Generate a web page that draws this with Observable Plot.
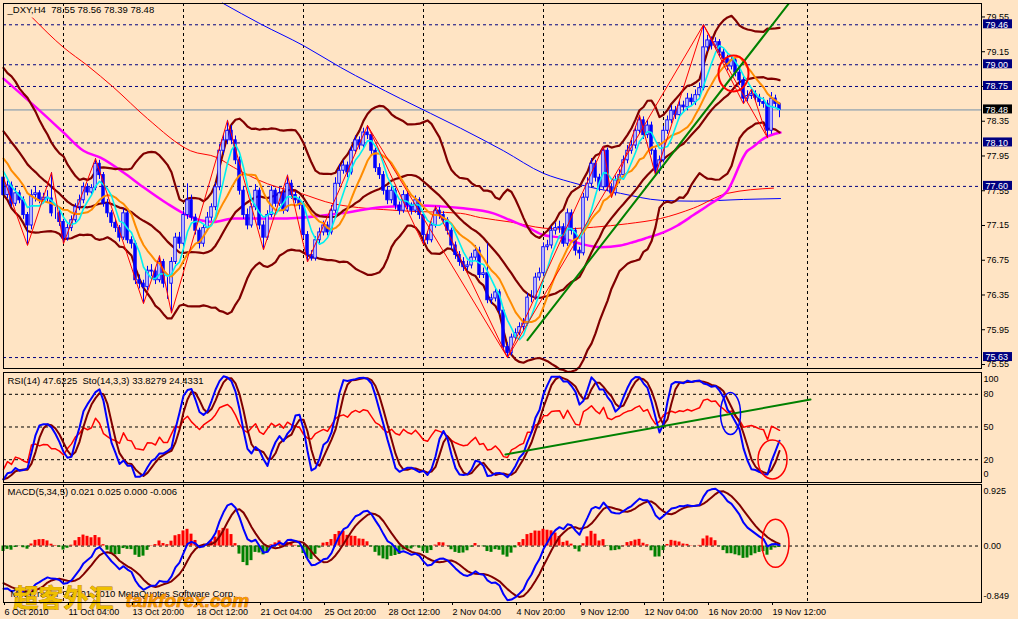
<!DOCTYPE html>
<html>
<head>
<meta charset="utf-8">
<script src="https://cdn.jsdelivr.net/npm/d3@7"></script>
<script src="https://cdn.jsdelivr.net/npm/@observablehq/plot@0.6"></script>
<style>
html,body{margin:0;padding:0;background:#FFE4C4;}
#wrap{position:relative;width:1018px;height:619px;overflow:hidden;background:#FFE4C4;}
</style>
</head>
<body>
<div id="wrap"></div>
<script>
// ---------------- DATA ----------------
// closes before the first visible bar (only used to warm up the indicators)
const prior = [78.95,78.80,78.72,78.66,78.70,78.58,78.52,78.44,78.36,78.40,78.28,78.18,78.22,78.05,77.98,77.92,78.02,77.85,77.78,77.70];

const close = [
77.50,77.61,77.40,77.52,77.44,77.27,77.15,77.50,77.52,77.44,
77.47,77.46,77.29,77.29,77.19,77.00,77.12,77.21,77.36,77.44,
77.59,77.53,77.58,77.86,77.73,77.40,77.29,77.18,77.12,77.01,
77.29,76.98,76.94,76.52,76.48,76.44,76.63,76.62,76.52,76.73,
76.48,76.48,76.73,77.01,76.94,77.27,77.44,77.24,77.09,76.94,
77.12,77.24,77.36,77.59,78.01,78.13,78.24,78.13,77.90,77.55,
77.27,77.15,77.36,77.55,77.15,77.01,77.27,77.55,77.40,77.52,
77.32,77.63,77.50,77.44,77.38,77.04,76.81,76.77,76.98,77.07,
77.15,77.07,77.32,77.63,77.78,77.84,77.76,78.01,78.13,78.07,
78.22,78.19,78.01,77.81,77.73,77.55,77.44,77.55,77.38,77.32,
77.50,77.38,77.32,77.44,77.27,77.04,76.98,77.15,77.32,77.27,
77.21,77.09,76.92,76.81,76.73,76.67,76.69,76.78,76.86,76.58,
76.60,76.29,76.31,76.38,76.17,75.75,75.68,75.86,75.91,75.98,
76.02,76.32,76.32,76.55,76.60,76.90,76.92,77.09,77.12,77.13,
76.94,77.29,77.09,76.86,76.83,77.47,77.63,77.86,77.70,77.59,
78.01,77.59,77.52,77.67,77.73,77.90,78.01,78.07,78.24,78.36,
78.19,78.30,78.01,77.78,77.90,78.24,78.36,78.47,78.42,78.53,
78.51,78.61,78.57,78.65,78.73,79.20,79.28,79.22,79.26,79.14,
79.07,78.98,79.05,78.91,78.82,78.61,78.64,78.66,78.62,78.57,
78.55,78.24,78.61,78.55,78.48];

const high = [
77.90,77.66,77.65,77.58,77.55,77.48,77.30,77.56,77.60,77.55,
77.52,77.55,77.76,77.36,77.33,77.22,77.16,77.26,77.40,77.50,
77.64,77.63,77.62,77.92,77.90,77.76,77.45,77.32,77.22,77.15,
77.34,77.32,77.02,76.97,76.58,76.52,76.68,76.70,76.66,76.80,
76.76,76.55,76.78,77.06,77.07,77.32,77.63,77.50,77.28,77.12,
77.16,77.30,77.40,77.64,78.08,78.20,78.36,78.30,78.18,77.94,
77.60,77.34,77.40,77.62,77.58,77.20,77.32,77.60,77.58,77.58,
77.56,77.73,77.67,77.54,77.48,77.42,77.08,76.86,77.02,77.12,
77.20,77.19,77.38,77.70,77.85,77.90,77.88,78.06,78.18,78.17,
78.27,78.30,78.22,78.04,77.86,77.77,77.60,77.60,77.58,77.42,
77.55,77.54,77.41,77.49,77.47,77.30,77.08,77.19,77.37,77.36,
77.31,77.24,77.12,76.96,76.85,76.78,76.74,76.83,76.92,76.90,
76.66,76.94,76.36,76.42,76.41,76.20,75.80,75.90,75.96,76.03,
76.08,76.37,76.40,76.60,76.66,76.95,76.98,77.14,77.18,77.20,
77.17,77.34,77.33,77.12,76.90,77.52,77.70,77.92,77.90,77.74,
78.06,78.04,77.63,77.72,77.79,77.95,78.07,78.13,78.29,78.42,
78.40,78.36,78.34,78.04,77.95,78.29,78.41,78.53,78.52,78.59,
78.58,78.67,78.66,78.71,78.79,79.46,79.34,79.32,79.31,79.29,
79.18,79.11,79.10,79.08,78.96,78.86,78.70,78.72,78.70,78.66,
78.62,78.59,78.68,78.65,78.56];

const low = [
77.45,77.46,77.36,77.37,77.40,77.22,76.92,77.10,77.42,77.40,
77.40,77.41,77.25,77.22,77.14,76.94,76.97,77.08,77.18,77.32,
77.40,77.49,77.50,77.55,77.68,77.36,77.24,77.13,77.07,76.96,
76.98,76.94,76.88,76.47,76.42,76.25,76.40,76.56,76.47,76.49,
76.43,76.30,76.14,76.70,76.88,76.90,77.22,77.20,77.04,76.88,
76.90,77.08,77.20,77.32,77.55,77.96,78.08,78.08,77.85,77.50,
77.22,77.10,77.12,77.32,77.10,76.87,76.98,77.24,77.36,77.37,
77.28,77.30,77.45,77.40,77.33,76.99,76.73,76.74,76.74,76.94,
77.03,77.03,77.04,77.29,77.60,77.74,77.70,77.73,77.97,78.02,
78.03,78.14,77.96,77.76,77.68,77.50,77.39,77.40,77.33,77.27,
77.29,77.33,77.27,77.29,77.22,76.93,76.93,76.95,77.12,77.22,
77.16,77.04,76.87,76.76,76.68,76.62,76.63,76.65,76.74,76.54,
76.54,76.25,76.24,76.27,76.12,75.70,75.63,75.65,75.82,75.88,
75.94,75.99,76.26,76.29,76.51,76.56,76.86,76.88,77.04,77.06,
76.90,76.91,77.04,76.80,76.76,76.80,77.43,77.60,77.65,77.54,
77.56,77.54,77.47,77.49,77.63,77.70,77.86,77.97,78.03,78.20,
78.14,78.15,77.96,77.73,77.74,77.87,78.20,78.32,78.37,78.38,
78.46,78.47,78.52,78.53,78.60,78.70,79.15,79.17,79.18,79.09,
79.02,78.93,78.94,78.86,78.76,78.55,78.57,78.60,78.58,78.52,
78.50,78.16,78.20,78.50,78.39];

// slow moving averages, read as points (bar index, price)
const ma50Idx = [0,11.25,15,20,24.25,30,35,41,45,49.25,52.5,57.5,62.5,67.5,74.25,84.25,94.25,104.25,109.25,114.25,122.5,126.75,131,135,139.25,144.25,149.25,154.25,157.5,161,165,168.5,172.5,176.75,181,186,187.25,190,194.25];
const ma50Val = [78.84,78.38,78.22,78.01,77.93,77.76,77.59,77.40,77.29,77.21,77.19,77.23,77.23,77.23,77.24,77.29,77.36,77.38,77.37,77.35,77.29,77.21,77.13,77.04,77.01,76.94,76.90,76.92,76.96,77.01,77.07,77.15,77.27,77.40,77.55,78.01,78.05,78.15,78.22];
const ma100Idx = [7.25,15,21,27.5,36,46.75,53.5,57.5,66,74.25,82.5,99.25,114.25,119.25,126.75,135,139.25,147.5,156,164.25,172.5,181,192.5];
const ma100Val = [79.54,79.20,78.99,78.74,78.38,78.01,77.93,77.82,77.63,77.52,77.40,77.32,77.29,77.24,77.19,77.12,77.11,77.13,77.17,77.23,77.35,77.52,77.58];
const ma200Idx = [54.75,64.25,75,84.25,99.25,114.25,125,135,141.75,146.75,151,154.25,164.25,172.5,185,194.25];
const ma200Val = [79.71,79.47,79.22,78.97,78.61,78.27,78.01,77.75,77.65,77.59,77.55,77.52,77.44,77.43,77.45,77.46];

// zigzag pivots
const zigIdx = [0,6,12,15,23,35,39,42,56,65,71,76,91,126,175,191];
const zigPrice = [77.70,76.92,77.76,76.94,77.92,76.25,76.80,76.14,78.36,76.87,77.73,76.73,78.30,75.63,79.46,78.16];
const zig2Idx = [91,105,108,126,150,152,159,163,175,185,187,191];
const zig2Price = [78.30,76.93,77.37,75.63,78.06,77.47,78.42,77.73,79.46,78.55,78.72,78.16];

// drawn trend lines and marks
const trendIdx = [131,196.25], trendPrice = [75.83,79.70];
const rsiTrendIdx = [125.5,201.75], rsiTrendVal = [24.8,75.2];
const mainMarkIdx = [182.5], mainMarkVal = [78.90];
const rsiBlueIdx = [181.75], rsiBlueVal = [62.4];
const rsiRedIdx = [192.25], rsiRedVal = [20.2];
const macdMarkIdx = [193], macdMarkVal = [0.04];

// levels, ticks, labels
const xMax = 244.5;
const gridIdx = [15,45,75,105,135,165,201];
const tickIdx = [0,16,32,48,64,80,96,112,128,144,160,176,192];
const tickLabels = ["6 Oct 2010","11 Oct 04:00","13 Oct 20:00","18 Oct 12:00","21 Oct 04:00","25 Oct 20:00","28 Oct 12:00","2 Nov 04:00","4 Nov 20:00","9 Nov 12:00","12 Nov 04:00","16 Nov 20:00","19 Nov 12:00"];
const priceTicks = [79.55,79.15,78.75,78.35,77.95,77.55,77.15,76.75,76.35,75.95,75.55];
const hLevels = [79.46,79.00,78.75,78.10,77.60,75.63];
const lastPrice = [78.48];
const rsiLevels = [80,50,20];
const titleMain = "_DXY,H4  78.55 78.56 78.39 78.48";
const titleRsi = "RSI(14) 47.6225  Sto(14,3,3) 33.8279 24.4331";
const titleMacd = "MACD(5,34,5) 0.021 0.025 0.000 -0.006";
const copyright = "MetaTrader ? 2001-2010 MetaQuotes Software Corp.";
const wmCn = "超客外汇", wmEn = "talkforex.com";

// ---------------- INDICATORS ----------------
const P = prior.length, N = close.length;
const open = close.map((c,i)=> i===0 ? prior[P-1] : close[i-1]);
const C = prior.concat(close), H = prior.concat(high), L = prior.concat(low);
const M = C.length;
const sma = (a,k)=>a.map((_,j)=>{ if(j<k-1) return NaN; const w=a.slice(j-k+1,j+1); return w.some(v=>isNaN(v))?NaN:d3.mean(w);});
const ema = (a,k)=>{const al=2/(k+1); let e; return a.map((v,j)=> e = (j===0? v : e + al*(v-e)));};
const sdev = (a,k)=>a.map((_,j)=>{ if(j<k-1) return NaN; const w=a.slice(j-k+1,j+1); const m=d3.mean(w); return Math.sqrt(d3.mean(w,v=>(v-m)*(v-m)));});
const ma5=sma(C,5), ma10=sma(C,10), mid20=sma(C,20), sd20=sdev(C,20);
const e5=ema(C,5), e34=ema(C,34);
const macd=C.map((_,j)=>e5[j]-e34[j]);
const sig=sma(macd,5);
const rsi=new Array(M).fill(NaN); let ag=0, al=0;
for(let j=1;j<M;j++){const ch=C[j]-C[j-1], g=ch>0?ch:0, l=ch<0?-ch:0;
  if(j<=14){ag+=g/14; al+=l/14;} else {ag=(ag*13+g)/14; al=(al*13+l)/14;}
  if(j>=14) rsi[j]= al===0?100:100-100/(1+ag/al);}
const LL=L.map((_,j)=> j<13?NaN:d3.min(L.slice(j-13,j+1)));
const HH=H.map((_,j)=> j<13?NaN:d3.max(H.slice(j-13,j+1)));
const K=C.map((_,j)=>{ if(j<15) return NaN; let num=0,den=0; for(let t=0;t<3;t++){num+=C[j-t]-LL[j-t]; den+=HH[j-t]-LL[j-t];} return den===0?100:100*num/den;});
const D=sma(K,3);
const rows = close.map((c,i)=>{const j=i+P; return {i, o:open[i], h:high[i], l:low[i], c,
  ma5:ma5[j], ma10:ma10[j], up:mid20[j]+2*sd20[j], mid:mid20[j], dn:mid20[j]-2*sd20[j],
  rsi:rsi[j], k:K[j], d:D[j], macd:macd[j], sig:sig[j], hist:macd[j]-sig[j]};});

// ---------------- DRAWING ----------------
const font = "'Liberation Sans', Arial, sans-serif";
const style = {background:"transparent", fontFamily:font, fontSize:"9px", color:"#000", overflow:"visible"};
function ellipseSymbol(rx, ry){ const k=0.5523; return {draw(c){ c.moveTo(rx,0); c.bezierCurveTo(rx,ry*k,rx*k,ry,0,ry); c.bezierCurveTo(-rx*k,ry,-rx,ry*k,-rx,0); c.bezierCurveTo(-rx,-ry*k,-rx*k,-ry,0,-ry); c.bezierCurveTo(rx*k,-ry,rx,-ry*k,rx,0); c.closePath(); }}; }
const grid = () => Plot.ruleX(gridIdx, {x:d=>d, stroke:"#000", strokeDasharray:"3,3", strokeWidth:1});
const pick = (vals)=> (d,k)=>vals[k];

const mainPlot = Plot.plot({
  width:1018, height:369, marginTop:3, marginBottom:1, marginLeft:3, marginRight:37, style,
  x:{domain:[0,xMax], axis:null},
  y:{domain:[75.504,79.705], label:null},
  marks:[
    grid(),
    Plot.ruleY(hLevels, {y:d=>d, stroke:"#000080", strokeDasharray:"3,3"}),
    Plot.ruleY(lastPrice, {y:d=>d, stroke:"#7390AB"}),
    Plot.line(ma200Idx, {x:d=>d, y:pick(ma200Val), stroke:"#0000ff", strokeWidth:1, curve:"monotone-x"}),
    Plot.line(ma100Idx, {x:d=>d, y:pick(ma100Val), stroke:"#ff0000", strokeWidth:1, curve:"monotone-x"}),
    Plot.line(ma50Idx, {x:d=>d, y:pick(ma50Val), stroke:"#ff00ff", strokeWidth:2.5, curve:"monotone-x"}),
    Plot.line(rows, {x:"i", y:"up", stroke:"#800000", strokeWidth:2.2}),
    Plot.line(rows, {x:"i", y:"mid", stroke:"#800000", strokeWidth:2.2}),
    Plot.line(rows, {x:"i", y:"dn", stroke:"#800000", strokeWidth:2.2}),
    Plot.ruleX(rows, {x:"i", y1:"l", y2:"h", stroke:"#0000ff", strokeWidth:1}),
    Plot.rect(rows, {x1:d=>d.i-0.3, x2:d=>d.i+0.3, y1:"o", y2:"c", fill:d=>d.c>=d.o?"#ffffff":"#0000ff", stroke:"#0000ff", strokeWidth:1}),
    Plot.line(rows, {x:"i", y:"ma10", stroke:"#FF8C00", strokeWidth:2}),
    Plot.line(rows, {x:"i", y:"ma5", stroke:"#00F0F0", strokeWidth:1.6}),
    Plot.line(zigIdx, {x:d=>d, y:pick(zigPrice), stroke:"#ff0000", strokeWidth:1}),
    Plot.line(zig2Idx, {x:d=>d, y:pick(zig2Price), stroke:"#ff0000", strokeWidth:1}),
    Plot.line(trendIdx, {x:d=>d, y:pick(trendPrice), stroke:"#008000", strokeWidth:2}),
    Plot.dot(mainMarkIdx, {x:d=>d, y:pick(mainMarkVal), symbol:ellipseSymbol(15,18), r:10, fill:"none", stroke:"#ff0000", strokeWidth:2}),
    Plot.frame({stroke:"#000"}),
    Plot.axisY(priceTicks, {anchor:"right", tickSize:3, tickPadding:2, tickFormat:d=>d.toFixed(2), label:null, fontSize:9}),
    Plot.rect(hLevels, {x1:()=>xMax, x2:()=>xMax, y1:d=>d, y2:d=>d, insetLeft:2, insetRight:-31, insetTop:-5, insetBottom:-4, fill:"#000080"}),
    Plot.text(hLevels, {x:()=>xMax, y:d=>d, text:d=>d.toFixed(2), dx:4, textAnchor:"start", fill:"#fff", fontSize:9}),
    Plot.rect(lastPrice, {x1:()=>xMax, x2:()=>xMax, y1:d=>d, y2:d=>d, insetLeft:2, insetRight:-31, insetTop:-5, insetBottom:-4, fill:"#000"}),
    Plot.text(lastPrice, {x:()=>xMax, y:d=>d, text:d=>d.toFixed(2), dx:4, textAnchor:"start", fill:"#fff", fontSize:9}),
    Plot.text([titleMain], {text:d=>d, frameAnchor:"top-left", dx:4, dy:3, lineAnchor:"top", textAnchor:"start", fontSize:9.5, fill:"#000"})
  ]
});

const rsiPlot = Plot.plot({
  width:1018, height:114, marginTop:3, marginBottom:1, marginLeft:3, marginRight:37, style,
  x:{domain:[0,xMax], axis:null},
  y:{domain:[-0.92,100], label:null},
  marks:[
    grid(),
    Plot.ruleY(rsiLevels, {y:d=>d, stroke:"#000", strokeDasharray:"3,3"}),
    Plot.line(rows, {x:"i", y:"rsi", stroke:"#ff0000", strokeWidth:1.5}),
    Plot.line(rows, {x:"i", y:"d", stroke:"#800000", strokeWidth:2}),
    Plot.line(rows, {x:"i", y:"k", stroke:"#0000ff", strokeWidth:2}),
    Plot.line(rsiTrendIdx, {x:d=>d, y:pick(rsiTrendVal), stroke:"#008000", strokeWidth:2}),
    Plot.dot(rsiBlueIdx, {x:d=>d, y:pick(rsiBlueVal), symbol:ellipseSymbol(10,21), r:10, fill:"none", stroke:"#0000ff", strokeWidth:1.5}),
    Plot.dot(rsiRedIdx, {x:d=>d, y:pick(rsiRedVal), symbol:ellipseSymbol(14.5,19.5), r:10, fill:"none", stroke:"#ff0000", strokeWidth:1.5}),
    Plot.frame({stroke:"#000"}),
    Plot.axisY(rsiLevels, {anchor:"right", tickSize:0, tickPadding:2, label:null, fontSize:9}),
    Plot.text([100], {x:()=>xMax, y:d=>d, text:d=>String(d), dx:2, dy:7, textAnchor:"start", fontSize:9}),
    Plot.text([0], {x:()=>xMax, y:d=>d, text:d=>String(d), dx:2, dy:-7, textAnchor:"start", fontSize:9}),
    Plot.text([titleRsi], {text:d=>d, frameAnchor:"top-left", dx:4, dy:5, lineAnchor:"top", textAnchor:"start", fontSize:9.5, fill:"#000"})
  ]
});

const macdPlot = Plot.plot({
  width:1018, height:136, marginTop:1, marginBottom:17, marginLeft:3, marginRight:37, style,
  x:{domain:[0,xMax], label:null},
  y:{domain:[-0.849,0.925], label:null},
  marks:[
    grid(),
    Plot.ruleY([0], {stroke:"#000", strokeDasharray:"3,3"}),
    Plot.rect(rows, {x1:d=>d.i-0.375, x2:d=>d.i+0.375, y1:0, y2:"hist", fill:d=>d.hist>=0?"#ff0000":"#008000"}),
    Plot.line(rows, {x:"i", y:"sig", stroke:"#800000", strokeWidth:2}),
    Plot.line(rows, {x:"i", y:"macd", stroke:"#0000ff", strokeWidth:2}),
    Plot.dot(macdMarkIdx, {x:d=>d, y:pick(macdMarkVal), symbol:ellipseSymbol(13.5,24), r:10, fill:"none", stroke:"#ff0000", strokeWidth:1.5}),
    Plot.text([copyright], {text:d=>d, frameAnchor:"bottom-left", dx:7, dy:-8.5, lineAnchor:"middle", textAnchor:"start", fontSize:9.5, fill:"#000"}),
    Plot.text([wmCn], {text:d=>d, frameAnchor:"bottom-left", dx:10, dy:-4, lineAnchor:"middle", textAnchor:"start", fontSize:25, fontWeight:"bold", fontFamily:"'Noto Sans CJK SC', sans-serif", fill:"#F0C000", stroke:"#B07800", strokeWidth:0.8}),
    Plot.text([wmEn], {text:d=>d, frameAnchor:"bottom-left", dx:122, dy:-2, lineAnchor:"middle", textAnchor:"start", fontSize:19, fontWeight:"bold", fontStyle:"italic", fill:"#F59B00", stroke:"#D04800", strokeWidth:0.6}),
    Plot.frame({stroke:"#000"}),
    Plot.axisY([0], {anchor:"right", tickSize:0, tickPadding:2, tickFormat:d=>d.toFixed(2), label:null, fontSize:9}),
    Plot.text([0.925], {x:()=>xMax, y:d=>d, text:d=>String(d), dx:2, dy:7, textAnchor:"start", fontSize:9}),
    Plot.text([-0.849], {x:()=>xMax, y:d=>d, text:d=>String(d), dx:2, dy:-6, textAnchor:"start", fontSize:9}),
    Plot.axisX(tickIdx, {anchor:"bottom", tickSize:3, tickPadding:3, textAnchor:"start", dx:1, tickFormat:d=>tickLabels[tickIdx.indexOf(d)], label:null, fontSize:9}),
    Plot.text([titleMacd], {text:d=>d, frameAnchor:"top-left", dx:4, dy:4, lineAnchor:"top", textAnchor:"start", fontSize:9.5, fill:"#000"})
  ]
});

const wrap = document.getElementById("wrap");
[[mainPlot,0],[rsiPlot,369],[macdPlot,483]].forEach(([svg,top])=>{
  svg.style.position="absolute"; svg.style.left="0px"; svg.style.top=top+"px";
  wrap.appendChild(svg);
});
</script>
</body>
</html>
